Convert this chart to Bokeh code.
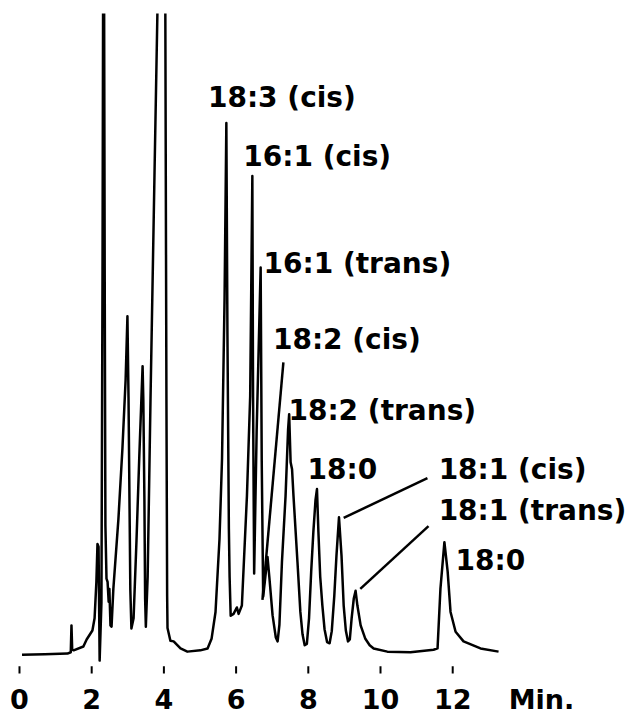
from bokeh.plotting import figure
from bokeh.models import Range1d, FixedTicker
from bokeh.core.properties import value
from bokeh.embed import file_html
from bokeh.resources import INLINE

# Gas chromatogram of fatty acid methyl esters: retention time (min) vs detector signal
time_min = [
    0.07, 0.70, 1.33, 1.42, 1.44, 1.46, 1.50, 1.77, 1.86, 2.02, 2.08, 2.13, 2.16, 2.19,
    2.22, 2.27, 2.30, 2.33, 2.36, 2.38, 2.41, 2.44, 2.47, 2.49, 2.52, 2.55, 2.60, 2.74,
    2.85, 2.94, 2.99, 3.02, 3.05, 3.07, 3.10, 3.16, 3.24, 3.32, 3.41, 3.43, 3.46, 3.48,
    3.50, 3.55, 3.63, 3.74, 3.82, 3.93, 4.04, 4.07, 4.09, 4.10, 4.18, 4.27, 4.46, 4.65,
    5.01, 5.21, 5.32, 5.43, 5.54, 5.61, 5.68, 5.73, 5.76, 5.80, 5.82, 5.85, 5.93, 6.02,
    6.07, 6.16, 6.30, 6.39, 6.45, 6.47, 6.50, 6.57, 6.68, 6.71, 6.75, 6.81, 6.87, 6.92,
    7.01, 7.10, 7.15, 7.20, 7.27, 7.37, 7.44, 7.47, 7.51, 7.55, 7.59, 7.70, 7.78, 7.84,
    7.90, 7.96, 8.02, 8.08, 8.14, 8.20, 8.24, 8.28, 8.33, 8.39, 8.45, 8.52, 8.59, 8.65,
    8.72, 8.78, 8.85, 8.92, 8.98, 9.04, 9.10, 9.15, 9.20, 9.26, 9.31, 9.36, 9.45, 9.58,
    9.70, 9.81, 10.19, 10.83, 11.47, 11.58, 11.66, 11.77, 11.86, 11.94, 12.08, 12.30,
    12.77, 13.27,
]
signal = [
    -0.2, -0.1, 0.0, 0.2, 4.4, 0.6, 0.5, 1.1, 2.2, 3.6, 5.5, 11.2, 17.1, 16.7,
    -1.1, 8.0, 60.0, 140.0, 60.0, 20.0, 11.7, 11.2, 8.1, 10.1, 4.4, 4.2, 10.1, 21.0,
    31.9, 42.8, 52.7, 40.0, 22.0, 10.0, 3.9, 5.5, 17.5, 31.0, 44.9, 39.7, 24.1, 8.6,
    4.2, 12.0, 40.0, 75.0, 100.0, 160.0, 100.0, 40.0, 9.0, 4.0, 2.0, 1.9, 0.8, 0.3,
    0.5, 0.8, 2.3, 6.5, 17.9, 30.4, 55.3, 82.9, 50.0, 19.5, 12.0, 5.9, 6.2, 7.2,
    6.2, 7.5, 24.6, 40.2, 74.6, 40.0, 12.5, 35.0, 60.3, 30.0, 8.9, 12.0, 15.1, 12.0,
    6.0, 2.5, 1.9, 4.5, 14.3, 24.6, 35.0, 37.4, 29.9, 28.8, 24.6, 14.3, 6.5, 3.0,
    1.3, 1.5, 5.5, 12.8, 19.0, 24.0, 25.7, 19.0, 12.0, 7.5, 3.8, 1.8, 1.6, 3.5,
    9.0, 15.3, 21.3, 15.3, 7.5, 3.6, 1.9, 2.2, 5.5, 8.6, 9.8, 7.5, 4.4, 2.3,
    1.3, 0.8, 0.3, 0.2, 0.6, 0.8, 10.1, 17.4, 12.8, 6.5, 3.4, 1.9,
    0.8, 0.3,
]

# Peak identifications
peak_names = ["18:3 (cis)", "16:1 (cis)", "16:1 (trans)", "18:2 (cis)", "18:2 (trans)",
              "18:0", "18:1 (cis)", "18:1 (trans)", "18:0"]
name_t = [5.22, 6.20, 6.76, 7.02, 7.45, 7.98, 11.61, 11.61, 12.08]
name_v = [86.9, 77.7, 60.9, 49.1, 38.0, 28.7, 28.7, 22.3, 14.5]

# Leader lines from labels to their peaks
lead_t0 = [7.31, 11.30, 11.33]
lead_v0 = [45.5, 27.4, 19.9]
lead_t1 = [6.73, 8.98, 9.44]
lead_v1 = [8.4, 21.2, 10.1]

# Time axis: tick marks every 2 min, unit written after the last one
tick_minutes = [0, 2, 4, 6, 8, 10, 12]
unit_at = 14.46
unit_text = "Min."
tick_top = -2.0
tick_bottom = -3.1

FONT = "DejaVu Sans"

p = figure(width=626, height=717, output_backend="svg", toolbar_location=None,
           x_range=Range1d(-0.526, 16.814), y_range=Range1d(-3.43, 100.0),
           y_axis_location=None, min_border_left=0, min_border_right=0,
           min_border_top=13, min_border_bottom=40)
p.outline_line_color = None
p.grid.grid_line_color = None
p.background_fill_color = "white"
p.border_fill_color = "white"

p.line(time_min, signal, line_width=2.5, color="black", line_join="round")
p.segment(lead_t0, lead_v0, lead_t1, lead_v1, line_width=2.5, color="black")

# short tick marks under the trace
p.segment(tick_minutes, [tick_top] * len(tick_minutes),
          tick_minutes, [tick_bottom] * len(tick_minutes),
          line_width=2, color="black")

p.text(name_t, name_v, text=peak_names, text_font=value(FONT), text_font_style="bold",
       text_font_size="28px", text_baseline="middle", text_align="left", text_color="black")

ax = p.xaxis[0]
ax.ticker = FixedTicker(ticks=tick_minutes + [unit_at])
ax.major_label_overrides = {unit_at: unit_text}
ax.axis_line_color = None
ax.major_tick_in = 0
ax.major_tick_out = 0
ax.major_tick_line_color = None
ax.minor_tick_line_color = None
ax.major_label_standoff = 8
ax.major_label_text_font = FONT
ax.major_label_text_font_style = "bold"
ax.major_label_text_font_size = "27px"
ax.major_label_text_color = "black"

open("out.html", "w").write(file_html(p, INLINE))
